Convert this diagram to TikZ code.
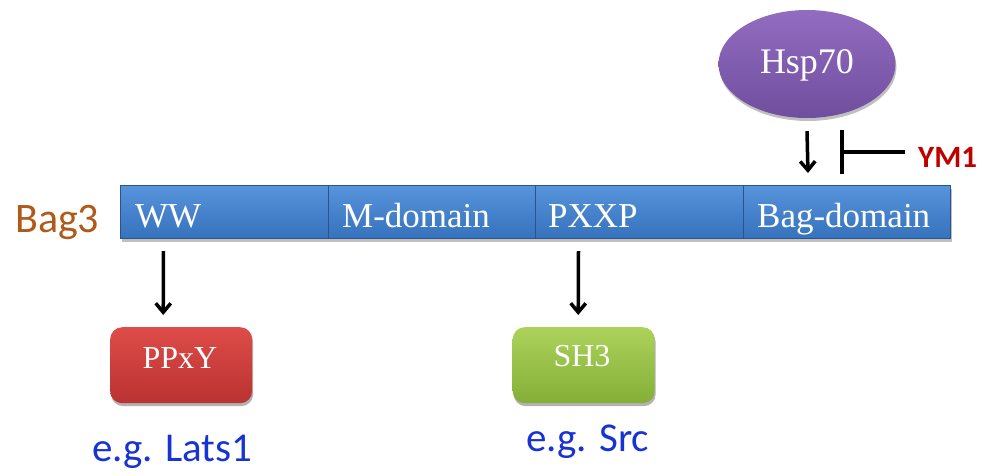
\documentclass[tikz,border=0pt]{standalone}
\usepackage{fontspec}
\setmainfont{Liberation Serif}
\newfontfamily\calfont{Carlito}
\usetikzlibrary{arrows.meta,shadows,shapes.geometric}
\definecolor{barblueT}{RGB}{86,148,220}
\definecolor{barblueB}{RGB}{55,114,188}
\definecolor{barline}{RGB}{40,85,145}
\definecolor{purpT}{RGB}{146,108,192}
\definecolor{purpB}{RGB}{112,78,158}
\definecolor{redT}{RGB}{222,76,72}
\definecolor{redB}{RGB}{186,50,50}
\definecolor{greenT}{RGB}{172,210,90}
\definecolor{greenB}{RGB}{132,175,55}
\definecolor{brownc}{RGB}{175,90,25}
\definecolor{egblue}{RGB}{25,50,210}
\definecolor{ymred}{RGB}{192,0,0}
\tikzset{
  seg/.style={rectangle, draw=barline, line width=1pt, top color=barblueT, bottom color=barblueB,
    minimum width=207.5pt, minimum height=53pt, inner sep=0pt, anchor=north west,
    drop shadow={shadow xshift=1pt, shadow yshift=-3pt, opacity=0.25, fill=black}},
  segtext/.style={text=white, inner sep=0pt, anchor=base west, font=\fontsize{35}{40}\selectfont},
  boxtext/.style={text=white, inner sep=0pt, anchor=base, font=\fontsize{32}{36}\selectfont},
  rbox/.style={rectangle, rounded corners=12pt, minimum width=142pt, minimum height=76pt, inner sep=0pt,
    anchor=north west, drop shadow={shadow xshift=1pt, shadow yshift=-3pt, opacity=0.3, fill=black}},
  egtext/.style={text=egblue, inner sep=0pt, anchor=base west, font=\calfont\fontsize{41}{46}\selectfont},
  arr/.style={line width=3.5pt, -{Straight Barb[length=9pt, width=15pt]}},
  inh/.style={line width=3.5pt, -{Bar[width=44pt]}}
}
\begin{document}
\begin{tikzpicture}[x=1pt, y=-1pt]
\useasboundingbox (0,0) rectangle (986,475);
% Bag3 label
\node[text=brownc, inner sep=0pt, anchor=base west, font=\calfont\fontsize{42}{48}\selectfont] (bag3) at (15,232) {Bag3};
% domain bar
\node[seg] (ww) at (120,185) {};
\node[seg] (md) at (327.5,185) {};
\node[seg] (px) at (535,185) {};
\node[seg] (bag) at (742.5,185) {};
\node[segtext] (wwt) at (135,227) {WW};
\node[segtext] (mdt) at (342,227) {M-domain};
\node[segtext] (pxt) at (548,227) {PXXP};
\node[segtext] (bagt) at (757,227) {Bag-domain};
% Hsp70
\node[ellipse, minimum width=177pt, minimum height=108pt, inner sep=0pt, top color=purpT, bottom color=purpB,
  drop shadow={shadow xshift=1pt, shadow yshift=-3pt, opacity=0.25, fill=black}] (hsp) at (807,64) {};
\node[text=white, inner sep=0pt, anchor=base, font=\fontsize{36}{40}\selectfont] (hspt) at (807,73) {Hsp70};
% YM1
\node[text=ymred, inner sep=0pt, anchor=base west, font=\calfont\bfseries\fontsize{31}{36}\selectfont] (ym1) at (918,167) {YM1};
\coordinate (tb) at (840,152);
\coordinate (inhs) at (905,152);
\draw[arr] ([shift={(0,13)}]hsp.south) -- ([shift={(-38.75,-12)}]bag.north);
\draw[inh] (inhs) -- (tb);
% lower boxes
\node[rbox, top color=redT, bottom color=redB] (ppxy) at (110,327) {};
\node[boxtext] (ppxyt) at (180,368) {PPxY};
\node[rbox, top color=greenT, bottom color=greenB] (sh3) at (512.5,327) {};
\node[boxtext] (sh3t) at (582,366) {SH3};
\draw[arr] ([shift={(-60.75,12)}]ww.south) -- ([shift={(-18,-12)}]ppxy.north);
\draw[arr] ([shift={(-60.75,12)}]px.south) -- ([shift={(-5.5,-12)}]sh3.north);
% examples
\node[egtext] (eg1) at (92,461) {e.g. Lats1};
\node[egtext] (eg2) at (526,451) {e.g. Src};
\end{tikzpicture}
\end{document}
